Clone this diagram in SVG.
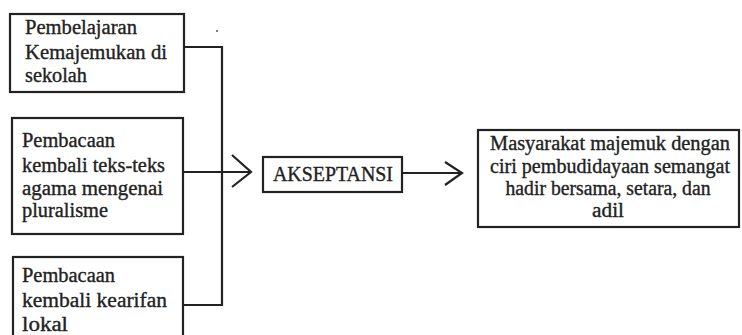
<svg xmlns="http://www.w3.org/2000/svg" width="742" height="335" viewBox="0 0 742 335">
<style>
.box{fill:#fff;stroke:#222;stroke-width:2.2}
.t{font-family:"Liberation Serif","Times New Roman",serif;font-size:20px;fill:#222;stroke:#222;stroke-width:0.35}
.c{font-family:"Liberation Serif","Times New Roman",serif;font-size:20px;fill:#222;stroke:#222;stroke-width:0.35;text-anchor:middle}
.a{font-family:"Liberation Serif","Times New Roman",serif;font-size:21px;fill:#222;stroke:#222;stroke-width:0.35}
.ln{fill:none;stroke:#222;stroke-width:2.2}
</style>
<rect width="742" height="335" fill="#fff"/>
<circle cx="217" cy="31" r="1" fill="#555"/>
<g id="connectors">
<polyline class="ln" points="184,47 222,47 222,305 183,305"/>
<line class="ln" x1="183" y1="172" x2="251" y2="172"/>
<polyline class="ln" points="232,155 251,172 232,187"/>
<line class="ln" x1="402" y1="173" x2="462" y2="173"/>
<polyline class="ln" points="445,162 462,173 445,185"/>
</g>
<g id="n1">
<rect class="box" x="10" y="14" width="174" height="78"/>
<text class="t" x="25" y="34" textLength="112" lengthAdjust="spacingAndGlyphs">Pembelajaran</text>
<text class="t" x="25" y="59" textLength="142" lengthAdjust="spacingAndGlyphs">Kemajemukan di</text>
<text class="t" x="25" y="82" textLength="62" lengthAdjust="spacingAndGlyphs">sekolah</text>
</g>
<g id="n2">
<rect class="box" x="12" y="118" width="171" height="116"/>
<text class="t" x="22" y="147" textLength="93" lengthAdjust="spacingAndGlyphs">Pembacaan</text>
<text class="t" x="22" y="172" textLength="143" lengthAdjust="spacingAndGlyphs">kembali teks-teks</text>
<text class="t" x="22" y="195" textLength="141" lengthAdjust="spacingAndGlyphs">agama mengenai</text>
<text class="t" x="22" y="217" textLength="86" lengthAdjust="spacingAndGlyphs">pluralisme</text>
</g>
<g id="n3">
<rect class="box" x="13" y="257" width="170" height="90"/>
<text class="t" x="22" y="282" textLength="93" lengthAdjust="spacingAndGlyphs">Pembacaan</text>
<text class="t" x="22" y="307" textLength="145" lengthAdjust="spacingAndGlyphs">kembali kearifan</text>
<text class="t" x="22" y="331" textLength="46" lengthAdjust="spacingAndGlyphs">lokal</text>
</g>
<g id="akseptansi">
<rect class="box" x="263" y="157" width="139" height="35"/>
<text class="a" x="273" y="181" textLength="120" lengthAdjust="spacingAndGlyphs">AKSEPTANSI</text>
</g>
<g id="result">
<rect class="box" x="478" y="130" width="261" height="97"/>
<text class="c" x="610" y="150" textLength="240" lengthAdjust="spacingAndGlyphs">Masyarakat majemuk dengan</text>
<text class="c" x="610" y="173" textLength="240" lengthAdjust="spacingAndGlyphs">ciri pembudidayaan semangat</text>
<text class="c" x="608" y="195" textLength="205" lengthAdjust="spacingAndGlyphs">hadir bersama, setara, dan</text>
<text class="c" x="608" y="217" textLength="32" lengthAdjust="spacingAndGlyphs">adil</text>
</g>
</svg>
